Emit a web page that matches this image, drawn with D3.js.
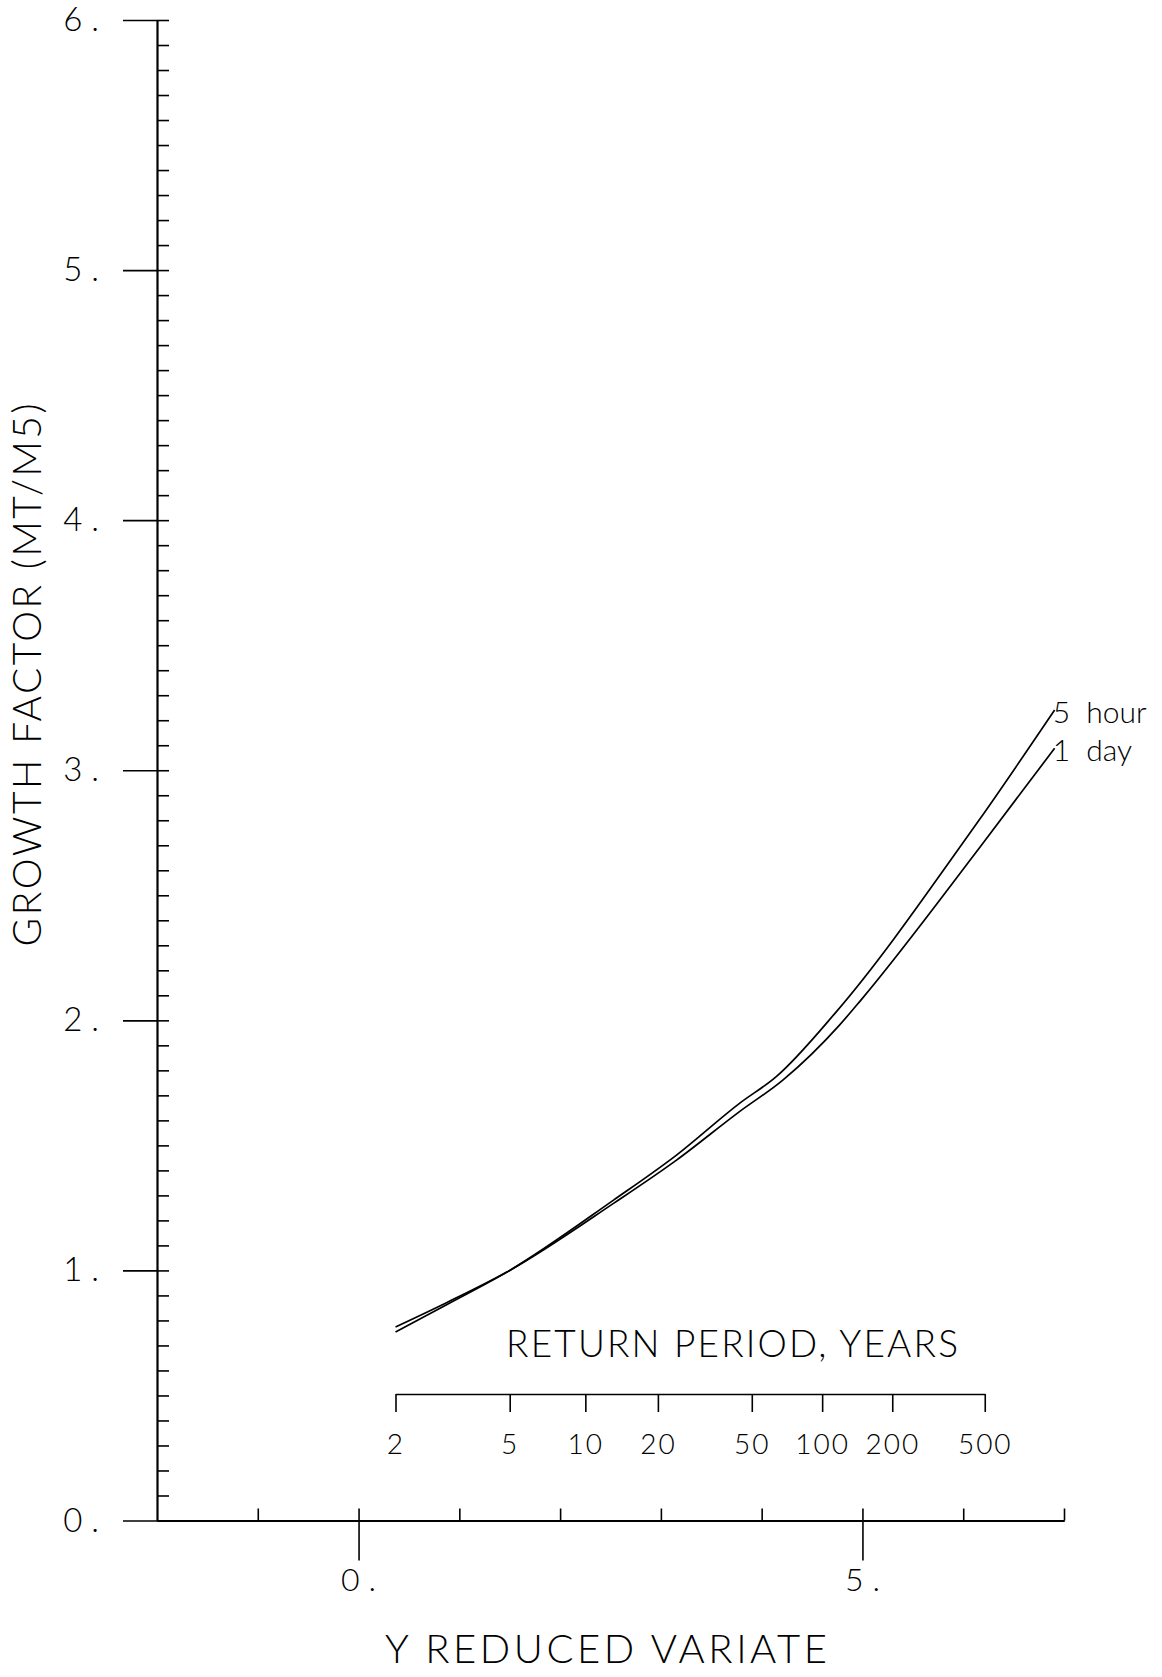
<!DOCTYPE html>
<html>
<head>
<meta charset="utf-8">
<script src="https://cdn.jsdelivr.net/npm/d3@7"></script>
<style>
  html, body { margin: 0; padding: 0; background: #fff; }
  svg { display: block; }
  text { font-family: Lato, "DejaVu Sans", sans-serif; font-weight: 300; fill: #000; }
</style>
</head>
<body>
<svg id="chart" width="1162" height="1677"></svg>
<script>
// Growth curves: reduced variate (Gumbel y) vs growth factor MT/M5
const seriesNames = ["5 hour", "1 day"];
const variate5Hour = [0.367, 0.878, 1.5, 2.53, 3.155, 3.78, 4.145, 4.74, 6.04, 6.158, 6.907];
const growth5Hour  = [0.754, 0.864, 1.0, 1.281, 1.461, 1.668, 1.775, 2.034, 2.734, 2.801, 3.241];
const variate1Day  = [0.367, 0.878, 1.5, 2.53, 3.155, 3.78, 4.21, 4.77, 4.985, 6.158, 6.907];
const growth1Day   = [0.774, 0.872, 1.0, 1.268, 1.441, 1.635, 1.761, 1.98, 2.081, 2.688, 3.088];

// Axis ticks
const yMajorTicks = [0, 1, 2, 3, 4, 5, 6];
const xUpperTicks = [-1, 0, 1, 2, 3, 4, 5, 6, 7];
const xLabelTicks = [0, 5];
const returnPeriods = [2, 5, 10, 20, 50, 100, 200, 500];

const yTitle = "GROWTH FACTOR (MT/M5)";
const xTitle = "Y REDUCED VARIATE";
const rpTitle = "RETURN PERIOD, YEARS";

const svg = d3.select("#chart");

const x = d3.scaleLinear().domain([-2, 7]).range([157, 1064]);
const y = d3.scaleLinear().domain([0, 6]).range([1520.5, 20]);

function styleAxis(g, width) {
  g.attr("font-family", null).attr("font-size", null);
  g.selectAll("path.domain").attr("stroke", "#000").attr("stroke-width", width);
  g.selectAll(".tick line").attr("stroke", "#000").attr("stroke-width", 1.6);
}

// Y axis: major ticks to the left with labels, minor ticks every 0.1 to the right
const yMajor = svg.append("g")
  .attr("transform", `translate(${x(-2)},0)`)
  .call(d3.axisLeft(y).tickValues(yMajorTicks).tickSize(34).tickSizeOuter(0)
    .tickPadding(24).tickFormat(d => d + "."));
styleAxis(yMajor, 2.2);
yMajor.selectAll(".tick text")
  .attr("font-size", 33).attr("letter-spacing", 9).attr("dx", 9);

const yMinor = svg.append("g")
  .attr("transform", `translate(${x(-2)},0)`)
  .call(d3.axisRight(y).tickValues(d3.range(0, 61).map(i => i / 10))
    .tickSize(12).tickSizeOuter(0).tickFormat(""));
styleAxis(yMinor, 0);
yMinor.select("path.domain").remove();

// X axis: short ticks above at every unit, long labelled ticks below at 0 and 5
const xTop = svg.append("g")
  .attr("transform", `translate(0,${y(0)})`)
  .call(d3.axisTop(x).tickValues(xUpperTicks).tickSize(12).tickSizeOuter(0).tickFormat(""));
styleAxis(xTop, 2);

const xBottom = svg.append("g")
  .attr("transform", `translate(0,${y(0)})`)
  .call(d3.axisBottom(x).tickValues(xLabelTicks).tickSize(40).tickSizeOuter(0)
    .tickPadding(8).tickFormat(d => d + "."));
styleAxis(xBottom, 2);
xBottom.selectAll(".tick text")
  .attr("font-size", 32).attr("letter-spacing", 9).attr("dx", 4);

// Return period scale placed on the reduced-variate axis (Gumbel transform)
const gumbel = T => -Math.log(-Math.log(1 - 1 / T));
const rp = d3.scaleLinear().domain(returnPeriods).range(returnPeriods.map(T => x(gumbel(T))));
const rpAxis = svg.append("g")
  .attr("transform", "translate(0,1394)")
  .call(d3.axisBottom(rp).tickValues(returnPeriods).tickSize(18).tickSizeOuter(0)
    .tickPadding(22).tickFormat(d => String(d)));
styleAxis(rpAxis, 1.6);
rpAxis.selectAll(".tick text").attr("font-size", 28).attr("letter-spacing", 2);

svg.append("text")
  .attr("x", 732).attr("y", 1357)
  .attr("text-anchor", "middle")
  .attr("font-size", 37)
  .attr("textLength", 452).attr("lengthAdjust", "spacing")
  .text(rpTitle);

// Growth curves
const line = d3.line().x(d => x(d[0])).y(d => y(d[1])).curve(d3.curveMonotoneX);
const series = [
  { name: seriesNames[0], pts: d3.zip(variate5Hour, growth5Hour) },
  { name: seriesNames[1], pts: d3.zip(variate1Day, growth1Day) }
];
svg.selectAll("path.curve").data(series).join("path")
  .attr("class", "curve")
  .attr("fill", "none").attr("stroke", "#000").attr("stroke-width", 1.7)
  .attr("d", d => line(d.pts));

svg.selectAll("text.curve-label").data(series).join("text")
  .attr("class", "curve-label")
  .attr("x", d => x(d.pts[d.pts.length - 1][0]) - 2)
  .attr("y", d => y(d.pts[d.pts.length - 1][1]) + 13)
  .attr("font-size", 30)
  .attr("xml:space", "preserve")
  .style("white-space", "pre")
  .text(d => d.name.replace(" ", "  "));

// Axis titles
svg.append("text")
  .attr("x", 606).attr("y", 1663)
  .attr("text-anchor", "middle")
  .attr("font-size", 40)
  .attr("textLength", 442).attr("lengthAdjust", "spacing")
  .text(xTitle);

svg.append("text")
  .attr("transform", "translate(41,675) rotate(-90)")
  .attr("text-anchor", "middle")
  .attr("font-size", 39)
  .attr("textLength", 543).attr("lengthAdjust", "spacing")
  .text(yTitle);
</script>
</body>
</html>
